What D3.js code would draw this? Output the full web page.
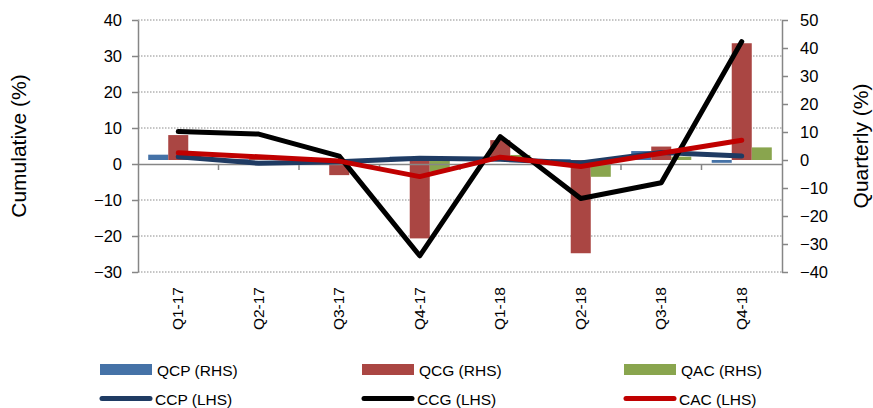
<!DOCTYPE html>
<html>
<head>
<meta charset="utf-8">
<script src="https://cdn.jsdelivr.net/npm/d3@7"></script>
<style>
  body { margin: 0; background: #fff; }
  svg text { font-family: "Liberation Sans", Arial, sans-serif; fill: #000; }
</style>
</head>
<body>
<svg id="chart"></svg>
<script>
const categories = ["Q1-17", "Q2-17", "Q3-17", "Q4-17", "Q1-18", "Q2-18", "Q3-18", "Q4-18"];
// quarterly (RHS) bars
const qcp = [1.9, 0.3, 0.2, 1.2, 0.5, 0.3, 3.2, -1.0];
const qcg = [8.9, 0.5, -5.4, -28.0, 7.1, -33.3, 4.8, 41.7];
const qac = [0.3, 0.3, 0.2, -4.2, 1.8, -6.0, 1.2, 4.5];
// cumulative (LHS) lines
const ccp = [2.0, 0.2, 0.6, 1.6, 1.3, 0.3, 3.2, 2.2];
const ccg = [9.0, 8.3, 2.2, -25.5, 7.6, -9.6, -5.2, 34.0];
const cac = [3.1, 2.0, 0.8, -3.5, 1.9, -0.7, 3.0, 6.6];
const leftTicks = [-30, -20, -10, 0, 10, 20, 30, 40];
const rightTicks = [-40, -30, -20, -10, 0, 10, 20, 30, 40, 50];

const W = 873, H = 408;
const margin = { top: 20, right: 91, bottom: 136, left: 138 };
const width = W - margin.left - margin.right;
const height = H - margin.top - margin.bottom;

const svg = d3.select("#chart").attr("width", W).attr("height", H);
const g = svg.append("g").attr("transform", `translate(${margin.left},${margin.top})`);

const x = d3.scaleBand().domain(categories).range([0, width]).padding(0);
const yL = d3.scaleLinear().domain([-30, 40]).range([height, 0]);
const yR = d3.scaleLinear().domain([-40, 50]).range([height, 0]);

const axisColor = "#868686";

// gridlines
g.selectAll(".grid").data(leftTicks.filter(d => d !== 0)).enter().append("line")
  .attr("x1", 0).attr("x2", width)
  .attr("y1", d => yL(d)).attr("y2", d => yL(d))
  .attr("stroke", "#8c8c8c").attr("stroke-width", 1)
  .attr("stroke-dasharray", "1.5,1.5");

// bars
const barSeries = [
  { name: "QCP (RHS)", values: qcp, color: "#4572A7" },
  { name: "QCG (RHS)", values: qcg, color: "#AA4643" },
  { name: "QAC (RHS)", values: qac, color: "#89A54E" }
];
const sub = d3.scaleBand().domain([0, 1, 2]).range([0, x.bandwidth()]).paddingOuter(0.51).paddingInner(0);
barSeries.forEach((s, i) => {
  g.selectAll(".bar" + i).data(s.values).enter().append("rect")
    .attr("x", (d, j) => x(categories[j]) + sub(i))
    .attr("width", sub.bandwidth())
    .attr("y", d => Math.min(yR(d), yR(0)))
    .attr("height", d => Math.abs(yR(d) - yR(0)))
    .attr("fill", s.color);
});

// axes
const xAxis = g.append("g").attr("transform", `translate(0,${yL(0)})`)
  .call(d3.axisBottom(x).tickValues([]).tickSizeOuter(0));
xAxis.select(".domain").attr("stroke", axisColor).attr("stroke-width", 1.5);
xAxis.selectAll(".bnd").data(d3.range(1, categories.length)).enter().append("line")
  .attr("x1", d => d * x.step()).attr("x2", d => d * x.step())
  .attr("y1", 0).attr("y2", 6)
  .attr("stroke", axisColor).attr("stroke-width", 1.5);

const lAxis = g.append("g").call(d3.axisLeft(yL).tickValues(leftTicks).tickSize(6).tickSizeOuter(0).tickPadding(10));
const rAxis = g.append("g").attr("transform", `translate(${width},0)`)
  .call(d3.axisRight(yR).tickValues(rightTicks).tickSize(6).tickSizeOuter(0).tickPadding(12));
[lAxis, rAxis].forEach(a => {
  a.select(".domain").attr("stroke", axisColor).attr("stroke-width", 1.5);
  a.selectAll(".tick line").attr("stroke", axisColor).attr("stroke-width", 1.5);
  a.selectAll(".tick text").style("font-size", "16.5px").attr("fill", "#000");
});

// category labels (rotated)
g.selectAll(".cat").data(categories).enter().append("text")
  .attr("transform", d => `translate(${x(d) + x.bandwidth() / 2 + 5},${height + 15}) rotate(-90)`)
  .attr("text-anchor", "end")
  .style("font-size", "15.5px")
  .text(d => d);

// lines
const lineSeries = [
  { name: "CCP (LHS)", values: ccp, color: "#1F3B63" },
  { name: "CCG (LHS)", values: ccg, color: "#000000" },
  { name: "CAC (LHS)", values: cac, color: "#C00000" }
];
const line = d3.line()
  .x((d, j) => x(categories[j]) + x.bandwidth() / 2)
  .y(d => yL(d));
lineSeries.forEach(s => {
  g.append("path").datum(s.values)
    .attr("d", line)
    .attr("fill", "none")
    .attr("stroke", s.color)
    .attr("stroke-width", 5)
    .attr("stroke-linejoin", "round")
    .attr("stroke-linecap", "round");
});

// axis titles
svg.append("text")
  .attr("transform", `translate(26,${margin.top + yL(5)}) rotate(-90)`)
  .attr("text-anchor", "middle")
  .style("font-size", "21px")
  .text("Cumulative (%)");
svg.append("text")
  .attr("transform", `translate(868,${margin.top + yR(5)}) rotate(-90)`)
  .attr("text-anchor", "middle")
  .style("font-size", "21px")
  .text("Quarterly (%)");

// legend
const colX = [100, 362, 624];
const legend = svg.append("g");
barSeries.forEach((s, i) => {
  const row = legend.append("g").attr("transform", `translate(${colX[i]},369.5)`);
  row.append("rect").attr("x", 0).attr("y", -5.5).attr("width", 52).attr("height", 11).attr("fill", s.color);
  row.append("text").attr("x", 57).attr("y", 6).style("font-size", "15.5px").text(s.name);
});
lineSeries.forEach((s, i) => {
  const row = legend.append("g").attr("transform", `translate(${colX[i]},398.5)`);
  row.append("line").attr("x1", 2).attr("x2", 50).attr("y1", 0).attr("y2", 0)
    .attr("stroke", s.color).attr("stroke-width", 5).attr("stroke-linecap", "round");
  row.append("text").attr("x", 55).attr("y", 6).style("font-size", "15.5px").text(s.name);
});
</script>
</body>
</html>
